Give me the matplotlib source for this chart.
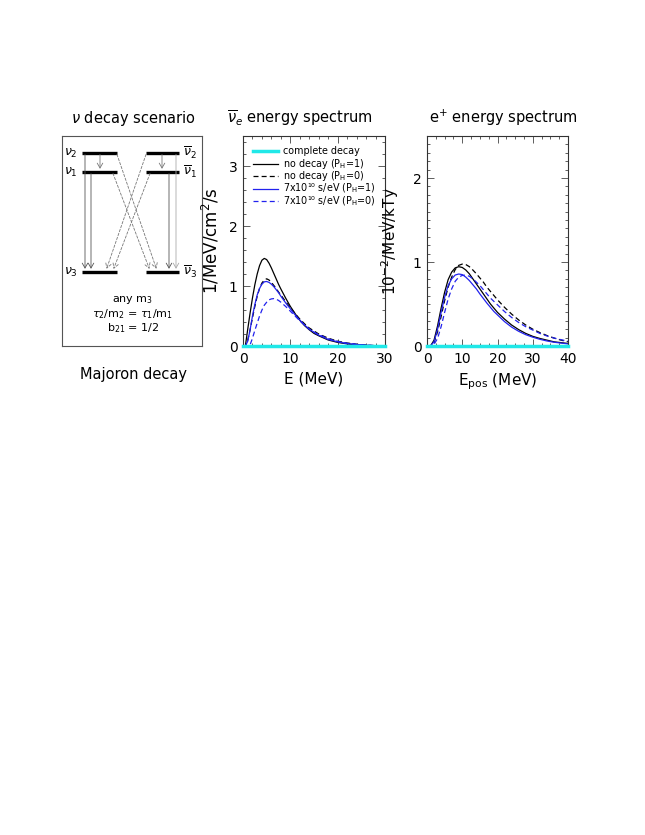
import matplotlib
matplotlib.use("Agg")
import matplotlib.pyplot as plt
from matplotlib.ticker import MultipleLocator

plt.rcParams['font.family'] = ['DejaVu Sans']
plt.rcParams['mathtext.fontset'] = 'dejavusans'

W, H = 645, 835

# ---------------- data: antineutrino energy spectrum (panel 2) ----------------
E_nu = [0, 0.5, 1, 1.5, 2, 2.5, 3, 3.5, 4, 4.5, 5, 5.5, 6, 6.5, 7, 7.5, 8, 9, 10, 11, 12, 13, 14, 15, 16,
        18, 20, 22, 24, 26, 28, 30]
nu_nodecay_P1 = [0, 0.0, 0.28, 0.55, 0.80, 1.02, 1.20, 1.34, 1.43, 1.46, 1.44, 1.38, 1.30, 1.21, 1.12, 1.03, 0.95,
                 0.80, 0.66, 0.54, 0.43, 0.34, 0.27, 0.21, 0.17, 0.10, 0.06, 0.035, 0.02, 0.01, 0.004, 0]
nu_nodecay_P0 = [0, 0, 0.10, 0.27, 0.47, 0.66, 0.83, 0.96, 1.05, 1.10, 1.12, 1.10, 1.06, 1.01, 0.96, 0.90, 0.85,
                 0.74, 0.64, 0.54, 0.45, 0.37, 0.30, 0.25, 0.20, 0.13, 0.08, 0.05, 0.03, 0.015, 0.006, 0]
nu_decay_P1 = [0, 0, 0.08, 0.27, 0.50, 0.69, 0.85, 0.96, 1.03, 1.07, 1.075, 1.06, 1.03, 0.99, 0.94, 0.89, 0.83,
               0.72, 0.62, 0.52, 0.43, 0.35, 0.28, 0.23, 0.18, 0.11, 0.07, 0.04, 0.025, 0.012, 0.005, 0]
nu_decay_P0 = [0, 0, 0, 0.02, 0.13, 0.26, 0.38, 0.50, 0.60, 0.68, 0.73, 0.77, 0.785, 0.79, 0.78, 0.76, 0.73,
               0.66, 0.58, 0.50, 0.42, 0.35, 0.28, 0.23, 0.19, 0.12, 0.075, 0.045, 0.027, 0.014, 0.006, 0]
nu_complete = [0] * len(E_nu)

# ---------------- data: positron energy spectrum (panel 3) ----------------
E_pos = [0, 1, 2, 3, 4, 5, 6, 7, 8, 9, 10, 11, 12, 13, 14, 15, 16, 17, 18, 19, 20,
         22, 24, 26, 28, 30, 32, 34, 36, 38, 40]
pos_nodecay_P1 = [0, 0.0, 0.07, 0.24, 0.45, 0.64, 0.79, 0.88, 0.93, 0.944, 0.935, 0.905, 0.86, 0.80, 0.74, 0.68,
                  0.62, 0.56, 0.50, 0.45, 0.40, 0.32, 0.25, 0.195, 0.15, 0.115, 0.09, 0.07, 0.05, 0.04, 0.03]
pos_nodecay_P0 = [0, 0, 0.04, 0.17, 0.35, 0.54, 0.70, 0.82, 0.91, 0.96, 0.975, 0.97, 0.945, 0.905, 0.86, 0.81,
                  0.76, 0.70, 0.65, 0.60, 0.55, 0.46, 0.38, 0.31, 0.25, 0.20, 0.16, 0.125, 0.095, 0.07, 0.05]
pos_decay_P1 = [0, 0, 0.05, 0.20, 0.40, 0.58, 0.72, 0.80, 0.845, 0.857, 0.85, 0.82, 0.78, 0.73, 0.68, 0.62,
                0.565, 0.51, 0.46, 0.41, 0.37, 0.29, 0.225, 0.175, 0.135, 0.105, 0.08, 0.06, 0.045, 0.035, 0.025]
pos_decay_P0 = [0, 0, 0.02, 0.09, 0.23, 0.40, 0.56, 0.68, 0.77, 0.82, 0.84, 0.845, 0.83, 0.80, 0.76, 0.72,
                0.67, 0.62, 0.57, 0.53, 0.49, 0.41, 0.34, 0.28, 0.23, 0.19, 0.15, 0.12, 0.095, 0.075, 0.058]
pos_complete = [0] * len(E_pos)

legend_labels = ["complete decay", r"no decay (P$_\mathrm{H}$=1)", r"no decay (P$_\mathrm{H}$=0)",
                 "7x10\u00b9\u2070 s/eV (P$_\\mathrm{H}$=1)", "7x10\u00b9\u2070 s/eV (P$_\\mathrm{H}$=0)"]

CYAN = '#20e8e8'
BLUE = '#2222ee'
GRAY = '#777777'
DASH = (0, (4, 2.5))

fig = plt.figure(figsize=(W / 100, H / 100), dpi=100)


def box(x0, x1, y0, y1):
    return [x0 / W, 1 - y1 / H, (x1 - x0) / W, (y1 - y0) / H]


def ftext(x, y, s, **kw):
    fig.text(x / W, 1 - y / H, s, ha='center', va='center', **kw)


def style_axes(ax, xmaj, xmin, ymaj, ymin):
    ax.xaxis.set_major_locator(MultipleLocator(xmaj))
    ax.xaxis.set_minor_locator(MultipleLocator(xmin))
    ax.yaxis.set_major_locator(MultipleLocator(ymaj))
    ax.yaxis.set_minor_locator(MultipleLocator(ymin))
    ax.tick_params(which='both', direction='in', top=True, right=True, width=0.6, color='#444444')
    ax.tick_params(which='major', length=5, labelsize=10, pad=4)
    ax.tick_params(which='minor', length=2.5)
    for s in ax.spines.values():
        s.set_linewidth(0.8)
        s.set_color('#333333')


# ---------------- panel 1: diagram ----------------
ax0 = fig.add_axes(box(62, 202, 136, 346))
ax0.set_xlim(62, 202)
ax0.set_ylim(346, 136)
ax0.set_xticks([])
ax0.set_yticks([])
for s in ax0.spines.values():
    s.set_linewidth(0.8)
    s.set_color('#555555')

y2, y1, y3 = 153, 172, 272
Lx0, Lx1 = 82, 117
Rx0, Rx1 = 146, 179
for yy in (y2, y1, y3):
    ax0.plot([Lx0, Lx1], [yy, yy], color='black', lw=2.4, solid_capstyle='butt')
    ax0.plot([Rx0, Rx1], [yy, yy], color='black', lw=2.4, solid_capstyle='butt')

arrow_kw = dict(arrowstyle='->,head_length=0.35,head_width=0.2', lw=0.6, shrinkA=0, shrinkB=1.2)


def arr(x0, y0, x1, y1, color=GRAY, ls='-'):
    ax0.annotate('', xy=(x1, y1), xytext=(x0, y0),
                 arrowprops=dict(color=color, linestyle=ls, **arrow_kw))


arr(100, y2 + 1.5, 100, y1 - 1.5)
arr(85, y2 + 1.5, 85, y3 - 1.5, color='#555555')
arr(91, y1 + 1.5, 91, y3 - 1.5, color='#555555')
arr(162, y2 + 1.5, 162, y1 - 1.5)
arr(169, y1 + 1.5, 169, y3 - 1.5, color='#555555')
arr(176, y2 + 1.5, 176, y3 - 1.5, color='#aaaaaa')
arr(117, y2 + 1.5, 157, y3 - 1.5, ls=(0, (3, 2)))
arr(113, y1 + 1.5, 150, y3 - 1.5, ls=(0, (3, 2)))
arr(146, y2 + 1.5, 106, y3 - 1.5, ls=(0, (3, 2)))
arr(150, y1 + 1.5, 113, y3 - 1.5, ls=(0, (3, 2)))

ax0.text(71, y2, r'$\nu_2$', ha='center', va='center', fontsize=9)
ax0.text(71, y1, r'$\nu_1$', ha='center', va='center', fontsize=9)
ax0.text(71, y3, r'$\nu_3$', ha='center', va='center', fontsize=9)
ax0.text(190, y2, r'$\overline{\nu}_2$', ha='center', va='center', fontsize=9)
ax0.text(190, y1, r'$\overline{\nu}_1$', ha='center', va='center', fontsize=9)
ax0.text(190, y3, r'$\overline{\nu}_3$', ha='center', va='center', fontsize=9)

ax0.text(133, 300, r'any m$_3$', ha='center', va='center', fontsize=8)
ax0.text(133, 314, r'$\tau_2$/m$_2$ = $\tau_1$/m$_1$', ha='center', va='center', fontsize=8)
ax0.text(133, 328, r'b$_{21}$ = 1/2', ha='center', va='center', fontsize=8)

ftext(133, 118, r'$\nu$ decay scenario', fontsize=10.5)
ftext(133, 374, 'Majoron decay', fontsize=10.5)

# ---------------- panel 2: antineutrino spectrum ----------------
ax1 = fig.add_axes(box(243, 385, 136, 346))
ax1.plot(E_nu, nu_complete, color=CYAN, lw=2.5, zorder=5, clip_on=False)
ax1.plot(E_nu, nu_nodecay_P1, color='black', lw=0.9)
ax1.plot(E_nu, nu_nodecay_P0, color='black', lw=0.9, ls=DASH)
ax1.plot(E_nu, nu_decay_P1, color=BLUE, lw=0.9)
ax1.plot(E_nu, nu_decay_P0, color=BLUE, lw=0.9, ls=DASH)
ax1.set_xlim(0, 30)
ax1.set_ylim(0, 3.5)
style_axes(ax1, 10, 2, 1, 0.2)
ax1.set_xlabel('E (MeV)', fontsize=11, labelpad=4)
ax1.set_ylabel(r'1/MeV/cm$^2$/s', fontsize=12, labelpad=5)

# manual legend
leg_styles = [dict(color=CYAN, lw=2.5), dict(color='black', lw=0.9), dict(color='black', lw=0.9, ls=DASH),
              dict(color=BLUE, lw=0.9), dict(color=BLUE, lw=0.9, ls=DASH)]
leg_rows = [151, 163.5, 176, 188.5, 201]
for lab, st, yr in zip(legend_labels, leg_styles, leg_rows):
    ya = (346 - yr) / 210
    ax1.plot([(253 - 243) / 142, (278 - 243) / 142], [ya, ya], transform=ax1.transAxes, **st)
    ax1.text((283 - 243) / 142, ya, lab, transform=ax1.transAxes, fontsize=6.9, va='center', ha='left')

ftext(300, 118, r'$\overline{\nu}_e$ energy spectrum', fontsize=10.5)

# ---------------- panel 3: positron spectrum ----------------
ax2 = fig.add_axes(box(427, 568, 136, 346))
ax2.plot(E_pos, pos_complete, color=CYAN, lw=2.5, zorder=5, clip_on=False)
ax2.plot(E_pos, pos_nodecay_P1, color='black', lw=0.9)
ax2.plot(E_pos, pos_nodecay_P0, color='black', lw=0.9, ls=DASH)
ax2.plot(E_pos, pos_decay_P1, color=BLUE, lw=0.9)
ax2.plot(E_pos, pos_decay_P0, color=BLUE, lw=0.9, ls=DASH)
ax2.set_xlim(0, 40)
ax2.set_ylim(0, 2.5)
style_axes(ax2, 10, 2.5, 1, 0.1)
ax2.set_xlabel(r'E$_\mathrm{pos}$ (MeV)', fontsize=11, labelpad=4)
ax2.set_ylabel(r'10$^{-2}$/MeV/kTy', fontsize=11, labelpad=8)
ftext(503, 118, r'e$^{+}$ energy spectrum', fontsize=10.5)

fig.savefig('out.png', dpi=100)
